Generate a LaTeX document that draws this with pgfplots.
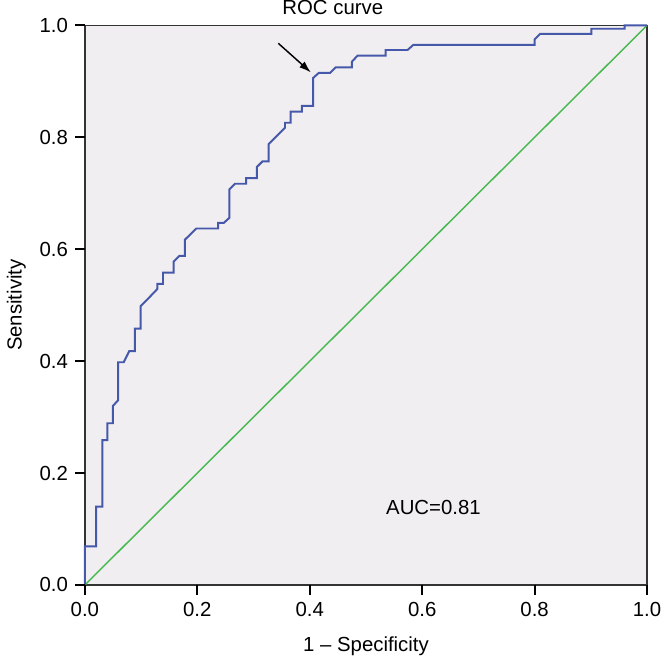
\documentclass[border=0pt]{standalone}
\usepackage{pgfplots}
\pgfplotsset{compat=1.18}
\usepackage{fontspec}
\setmainfont{Liberation Sans}
\usetikzlibrary{arrows.meta}

\definecolor{plotbg}{RGB}{240,238,240}
\definecolor{rocblue}{RGB}{70,88,170}
\definecolor{refgreen}{RGB}{70,185,80}

\begin{document}
\fontsize{15.5}{18}\selectfont
\begin{tikzpicture}
\begin{axis}[
    scale only axis,
    width=428pt, height=426pt,
    xmin=0, xmax=1, ymin=0, ymax=1,
    xtick={0,0.2,...,1}, ytick={0,0.2,...,1},
    xticklabel style={/pgf/number format/fixed, /pgf/number format/fixed zerofill, /pgf/number format/precision=1},
    yticklabel style={/pgf/number format/fixed, /pgf/number format/fixed zerofill, /pgf/number format/precision=1},
    /pgf/number format/assume math mode=true,
    tick align=outside,
    major tick length=7.5pt,
    xtick pos=left, ytick pos=left,
    axis line style={line width=1.1pt, black!80},
    axis background/.style={fill=plotbg},
    tick label style={font=\fontsize{15.5}{18}\selectfont},
    label style={font=\fontsize{15.5}{18}\selectfont},
    xlabel={1 – Specificity},
    ylabel={Sensitivity},
    xlabel style={at={(axis description cs:0.5,-0.11)}, anchor=center},
    ylabel style={at={(axis description cs:-0.122,0.5)}, anchor=center},
    clip=false,
]
% diagonal reference line
\addplot[refgreen, line width=1.1pt] coordinates {(0,0) (1,1)};
% ROC curve
\addplot[rocblue, line width=1.5pt] coordinates {
    (0,0) (0,0.069) (0.020,0.069) (0.020,0.140) (0.031,0.140) (0.031,0.259)
    (0.040,0.259) (0.040,0.289) (0.050,0.289) (0.050,0.320) (0.059,0.330)
    (0.059,0.398) (0.069,0.398) (0.079,0.418) (0.089,0.418) (0.089,0.458)
    (0.099,0.458) (0.099,0.498) (0.109,0.508) (0.129,0.529) (0.129,0.538)
    (0.139,0.538) (0.139,0.558) (0.158,0.558) (0.158,0.578) (0.168,0.588)
    (0.178,0.588) (0.178,0.617) (0.198,0.637) (0.237,0.637) (0.237,0.647)
    (0.247,0.647) (0.257,0.656) (0.257,0.707) (0.267,0.717) (0.287,0.717)
    (0.287,0.727) (0.306,0.727) (0.306,0.747) (0.316,0.757) (0.327,0.757)
    (0.327,0.788) (0.356,0.817) (0.356,0.826) (0.366,0.826) (0.366,0.846)
    (0.386,0.846) (0.386,0.856) (0.406,0.856) (0.406,0.906) (0.416,0.915)
    (0.436,0.915) (0.446,0.925) (0.475,0.925) (0.475,0.935) (0.485,0.946)
    (0.535,0.946) (0.535,0.956) (0.574,0.956) (0.584,0.965) (0.800,0.965)
    (0.800,0.975) (0.810,0.985) (0.901,0.985) (0.901,0.994) (0.960,0.994)
    (0.960,1) (1,1)
};
\draw[-{Latex[length=9pt,width=6pt]}, line width=1.1pt, black]
    (axis cs:0.344,0.968) -- (axis cs:0.402,0.916);
\node[anchor=base, inner sep=0pt] at ([yshift=8.5pt]axis cs:0.441,1) {ROC curve};
\node[anchor=center, inner sep=0pt] at (axis cs:0.62,0.138) {AUC=0.81};
\coordinate (SW) at (rel axis cs:0,0);
\end{axis}
% outside ticks on the bottom and left sides
\foreach \k in {0,1,2,3,4,5}{
    \draw[line width=1.4pt, black] ([xshift=\k*85.6pt]SW) -- ++(0pt,-7.5pt);
    \draw[line width=1.4pt, black] ([yshift=\k*85.2pt]SW) -- ++(-7.5pt,0pt);
}
\end{tikzpicture}
\end{document}
